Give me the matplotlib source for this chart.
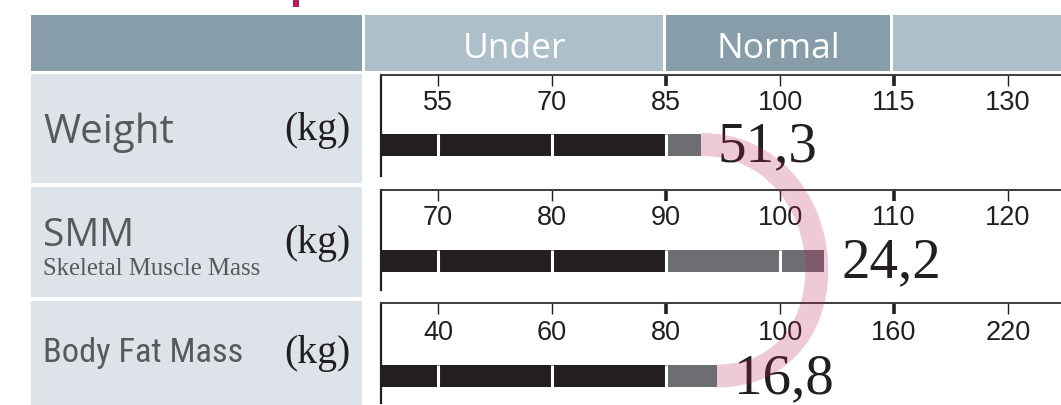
import numpy as np
import matplotlib
matplotlib.use("Agg")
import matplotlib.pyplot as plt
from matplotlib import font_manager as fm
from matplotlib.patches import Rectangle, PathPatch
from matplotlib.path import Path
from matplotlib.transforms import IdentityTransform

# ---------------- data ----------------
metrics = ["Weight", "SMM", "Body Fat Mass"]
subtitles = ["", "Skeletal Muscle Mass", ""]
units = ["(kg)", "(kg)", "(kg)"]
value_labels = ["51,3", "24,2", "16,8"]
percent_of_standard = [89.6, 103.9, 88.9]          # bar length (% of standard)
scale_ticks = [[55, 70, 85, 100, 115, 130],
               [70, 80, 90, 100, 110, 120],
               [40, 60, 80, 100, 160, 220]]
range_labels = ["Under", "Normal", ""]
under_limit_index = 2     # tick where "Under" ends (black -> gray)
normal_limit_index = 4    # tick where "Normal" ends

# ---------------- style / layout ----------------
W, H = 1061, 405
DARK_HDR = "#879DA9"
LIGHT_HDR = "#ADBFC8"
PANEL = "#DDE3E8"
BLACK = "#231F20"
GRAY = "#6D6E71"
TEXT_GRAY = "#58595B"
CRIMSON = "#B81E58"


def condensed_font():
    """Pick a condensed sans font if one is installed."""
    prefs = ["Noto Sans ExtraCondensed", "Noto Sans Condensed", "Roboto Condensed",
             "Liberation Sans Narrow", "DejaVu Sans Condensed", "Open Sans Condensed",
             "Noto Sans SemiCondensed"]
    by_name = {}
    for f in fm.fontManager.ttflist:
        by_name.setdefault(f.name, []).append(f)
    for p in prefs:
        for f in by_name.get(p, []):
            if f.weight in (400, "normal", "regular") and f.style == "normal":
                return fm.FontProperties(fname=f.fname)
    for f in fm.fontManager.ttflist:
        if str(f.stretch) in ("condensed", "semi-condensed", "75", "87.5") and \
                f.style == "normal" and f.weight in (400, "normal", "regular") and \
                ("Sans" in f.name or "Roboto" in f.name):
            return fm.FontProperties(fname=f.fname)
    return fm.FontProperties(family="Roboto")


fig = plt.figure(figsize=(W / 100, H / 100), dpi=100)
fig.patch.set_facecolor("white")


def box(x0, y0, x1, y1, color, z=0):
    fig.add_artist(Rectangle((x0 / W, 1 - y1 / H), (x1 - x0) / W, (y1 - y0) / H,
                             transform=fig.transFigure, facecolor=color,
                             edgecolor="none", zorder=z))


# small crimson mark at top
box(293, 0, 299, 7, CRIMSON)

# header boxes
box(31, 15, 362, 71, DARK_HDR)
hdr_boxes = [(365, 663, LIGHT_HDR), (666, 890, DARK_HDR), (893, 1061, LIGHT_HDR)]
for (x0, x1, c), lab in zip(hdr_boxes, range_labels):
    box(x0, 15, x1, 71, c)
    if lab:
        fig.text((x0 + x1) / 2 / W, 1 - 58 / H, lab, ha="center", va="baseline",
                 color="white", fontsize=25.5, family="Open Sans")

# left panels
panel_rows = [(74, 183), (187, 297), (301, 405)]
for (y0, y1) in panel_rows:
    box(31, y0, 362, y1, PANEL)

renderer = fig.canvas.get_renderer()
name_baselines = [143, 246, 362]
unit_baselines = [140, 253, 363]
for i, name in enumerate(metrics):
    if i < 2:
        fig.text(43 / W, 1 - name_baselines[i] / H, name, ha="left", va="baseline",
                 color=TEXT_GRAY, family="Open Sans", fontsize=[29, 28][i])
    else:
        fp = condensed_font()
        fp.set_size(27)
        t = fig.text(43 / W, 1 - name_baselines[i] / H, name, ha="left", va="baseline",
                     color=TEXT_GRAY, fontproperties=fp)
        wpx = t.get_window_extent(renderer).width
        t.set_fontsize(min(28, 27 * 200 / wpx))
    fig.text(350 / W, 1 - unit_baselines[i] / H, units[i], ha="right", va="baseline",
             color=BLACK, family="Liberation Serif", fontsize=28.5)
    if subtitles[i]:
        fig.text(43 / W, 1 - 275 / H, subtitles[i], ha="left", va="baseline",
                 color=TEXT_GRAY, family="Liberation Serif", fontsize=17.8)

# chart rows
row_top = [75, 189.5, 302.5]
row_bot = [176, 290, 403]
bar_center = [144.5, 260.5, 376]
tick_label_base = [110, 225, 340]
BAR_H = 22
SLOT = 114.0
AX_LEFT, AX_RIGHT = 381, 1065
slot_pos = np.arange(6) + 0.5

bar_ends_disp = []
for i in range(3):
    top, bot = row_top[i], row_bot[i]
    ax = fig.add_axes([AX_LEFT / W, 1 - bot / H, (AX_RIGHT - AX_LEFT) / W, (bot - top) / H])
    ax.set_xlim(0, (AX_RIGHT - AX_LEFT) / SLOT)
    ax.set_ylim(bot, top)
    ax.patch.set_alpha(0)
    for s in ["right", "bottom"]:
        ax.spines[s].set_visible(False)
    ax.spines["top"].set_color("#3C3C3C")
    ax.spines["top"].set_linewidth(1.4)
    ax.spines["left"].set_color(BLACK)
    ax.spines["left"].set_linewidth(1.6)
    ax.set_yticks([])
    ax.set_xticks(slot_pos)
    ax.tick_params(axis="x", top=True, bottom=False, labeltop=False, labelbottom=False,
                   direction="in", length=8, width=1.0, color=BLACK)
    for k, t in enumerate(ax.xaxis.get_major_ticks()):
        if k in (under_limit_index, normal_limit_index):
            t.tick2line.set_markeredgewidth(2.6)

    ticks = scale_ticks[i]
    for k, tv in enumerate(ticks):
        ax.text(slot_pos[k], tick_label_base[i], str(tv), ha="center", va="baseline",
                fontsize=19.5, family="Liberation Sans", color=BLACK)

    end = np.interp(percent_of_standard[i], ticks, slot_pos)
    split = slot_pos[under_limit_index]
    yc = bar_center[i]
    ax.barh(yc, split, left=0, height=BAR_H, color=BLACK, zorder=2)
    ax.barh(yc, end - split, left=split, height=BAR_H, color=GRAY, zorder=2)
    # white separators at scale ticks inside the bar
    for k, p in enumerate(slot_pos):
        if p < end:
            ax.vlines(p, yc - BAR_H / 2, yc + BAR_H / 2, color="white", lw=2.2, zorder=3)
    ax.text(end + 17 / SLOT, yc + 17, value_labels[i], ha="left", va="baseline",
            family="Liberation Serif", fontsize=41, color=BLACK, zorder=4)
    bar_ends_disp.append(ax.transData.transform((end, yc)))

# pink connector arc from first bar end to last bar end
p0 = np.array(bar_ends_disp[0])
p3 = np.array(bar_ends_disp[2])
half = abs(p0[1] - p3[1]) / 2
k = 4 / 3 * half * 0.93
path = Path([p0, p0 + [k, 0], p3 + [k, 0], p3],
            [Path.MOVETO, Path.CURVE4, Path.CURVE4, Path.CURVE4])
fig.add_artist(PathPatch(path, transform=IdentityTransform(), facecolor="none",
                         edgecolor=CRIMSON, alpha=0.24, lw=16.5, capstyle="butt", zorder=10))

fig.savefig("out.png", dpi=100, facecolor="white")
